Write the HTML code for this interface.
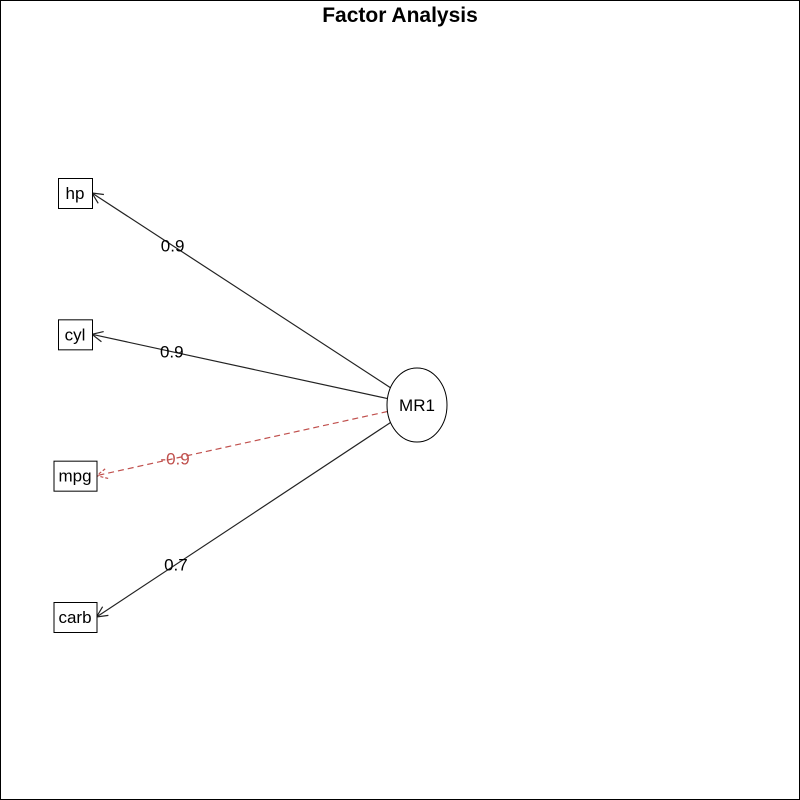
<!DOCTYPE html>
<html><head><meta charset="utf-8"><style>
html,body{margin:0;padding:0;background:#fff}
svg{display:block;font-family:"Liberation Sans",sans-serif}
</style></head><body>
<svg id="chart" width="800" height="800">
<rect x="0.5" y="0.5" width="799" height="799" fill="#fff" stroke="#000"/>
<text x="400" y="22" text-anchor="middle" font-size="21" font-weight="bold">Factor Analysis</text>
<g id="edges"></g><g id="nodes"></g>
</svg>
<script>
const variables = ["hp", "cyl", "mpg", "carb"];
const loadings = [0.9, 0.9, -0.9, 0.7];
const factorName = "MR1";

const NS = "http://www.w3.org/2000/svg";
const edges = document.getElementById('edges');
const nodes = document.getElementById('nodes');
function yPos(i){ return 193 + i * (617 - 193) / (variables.length - 1); }
const fx = 417, fy = 405, rx = 30, ry = 37;
function mk(tag, attrs, parent){ const e = document.createElementNS(NS, tag); for (const k in attrs) e.setAttribute(k, attrs[k]); parent.appendChild(e); return e; }

const ell = mk('ellipse', {cx:fx, cy:fy, rx:rx, ry:ry, fill:'#fff', stroke:'#000'}, nodes);


const ft = mk('text', {x:fx, y:fy+6, 'text-anchor':'middle', 'font-size':17}, nodes);
ft.textContent = factorName;



variables.forEach((v, i) => {
  const y = yPos(i);
  const tt = mk('text', {x:75, y:y+6, 'text-anchor':'middle', 'font-size':17}, nodes);
  tt.textContent = v;
  
  
  let tw = 0;
  try { tw = tt.getComputedTextLength(); } catch(e) { tw = v.length * 9; }
  const w = Math.max(34, Math.round(tw + 10));
  const bx = 75 - w / 2;
  const ex = bx + w;
  const dx = ex - fx, dy = y - fy;
  const t = 1 / Math.sqrt((dx*dx)/(rx*rx) + (dy*dy)/(ry*ry));
  const sx = fx + dx * t, sy = fy + dy * t;
  const neg = loadings[i] < 0;
  const col = neg ? '#c0504d' : '#222';
  const line = mk('line', {x1:sx, y1:sy, x2:ex, y2:y, stroke:col, 'stroke-width':1.2}, edges);
  if (neg) line.setAttribute('stroke-dasharray', '6,4');
  
  
  const ang = Math.atan2(sy - y, sx - ex), L = 12, a = 0.45;
  const head = mk('path', {d:`M${ex+L*Math.cos(ang+a)},${y+L*Math.sin(ang+a)} L${ex},${y} L${ex+L*Math.cos(ang-a)},${y+L*Math.sin(ang-a)}`, fill:'none', stroke:col, 'stroke-width':1.2}, edges);
  if (neg) head.setAttribute('stroke-dasharray', '3,2');
  
  
  const lx = sx + (ex - sx) * 0.73, ly = sy + (y - sy) * 0.73;
  const lt = mk('text', {x:lx, y:ly+6, 'text-anchor':'middle', 'font-size':17, fill: neg ? '#c0504d' : '#000'}, edges);
  lt.textContent = loadings[i].toFixed(1);
  
  
  const r = mk('rect', {x:bx+0.5, y:y-15+0.5, width:w, height:30, fill:'#fff', stroke:'#000'}, nodes);
  nodes.insertBefore(r, tt);
  
  
});
</script>
</body></html>
